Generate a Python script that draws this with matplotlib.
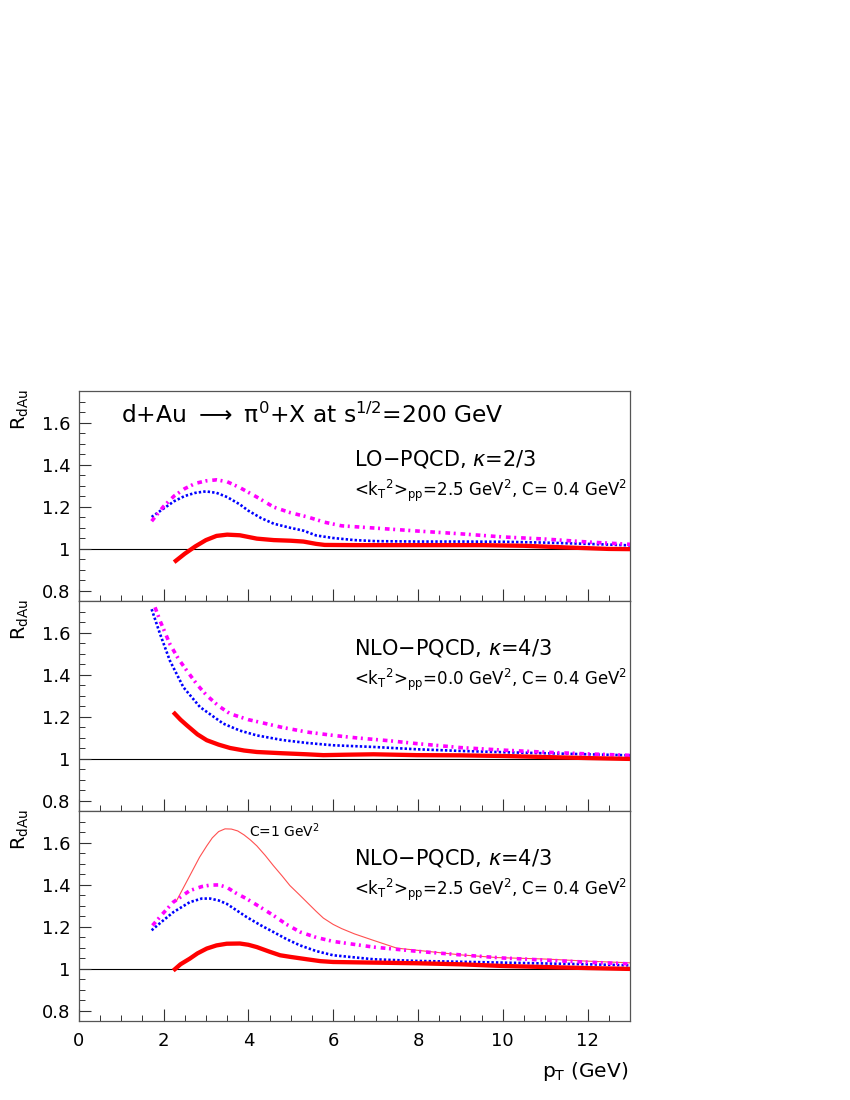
import numpy as np
import matplotlib
matplotlib.use("Agg")
import matplotlib.pyplot as plt
from matplotlib.ticker import MultipleLocator, FixedLocator

plt.rcParams['font.family'] = ['DejaVu Sans']
plt.rcParams['mathtext.fontset'] = 'dejavusans'

# ---- panel 1: LO-PQCD, kappa=2/3, <kT^2>pp = 2.5 ----
p1_mag_x = [1.72, 2.0, 2.25, 2.5, 2.75, 3.0, 3.25, 3.5, 3.8, 4.2, 4.6, 5.0, 5.4, 5.8, 6.2, 7.0, 8.0, 9.0, 10.0, 11.0, 12.0, 13.0]
p1_mag_y = [1.13, 1.20, 1.25, 1.285, 1.31, 1.322, 1.327, 1.318, 1.29, 1.245, 1.197, 1.17, 1.15, 1.125, 1.108, 1.097, 1.083, 1.07, 1.055, 1.045, 1.031, 1.02]
p1_blu_x = [1.72, 2.0, 2.25, 2.5, 2.75, 3.0, 3.25, 3.5, 3.8, 4.0, 4.3, 4.6, 5.0, 5.3, 5.6, 6.0, 6.5, 7.0, 8.0, 9.0, 10.0, 11.0, 12.0, 13.0]
p1_blu_y = [1.15, 1.19, 1.225, 1.25, 1.265, 1.272, 1.265, 1.245, 1.21, 1.18, 1.145, 1.118, 1.098, 1.085, 1.062, 1.05, 1.04, 1.035, 1.033, 1.033, 1.032, 1.028, 1.022, 1.015]
p1_red_x = [2.25, 2.5, 2.75, 3.0, 3.25, 3.5, 3.8, 4.2, 4.6, 5.0, 5.3, 5.6, 5.8, 6.5, 7.5, 8.5, 9.5, 10.5, 11.5, 12.5, 13.0]
p1_red_y = [0.935, 0.975, 1.01, 1.04, 1.06, 1.066, 1.063, 1.047, 1.04, 1.037, 1.033, 1.022, 1.017, 1.016, 1.016, 1.016, 1.016, 1.013, 1.005, 0.998, 0.997]

# ---- panel 2: NLO-PQCD, kappa=4/3, <kT^2>pp = 0.0 ----
p2_mag_x = [1.8, 1.92, 2.15, 2.35, 2.55, 2.8, 3.02, 3.3, 3.57, 4.0, 4.35, 4.8, 5.38, 6.0, 6.56, 7.3, 7.97, 9.0, 10.0, 11.0, 12.0, 13.0]
p2_mag_y = [1.72, 1.655, 1.545, 1.475, 1.418, 1.35, 1.30, 1.25, 1.213, 1.185, 1.169, 1.148, 1.126, 1.11, 1.098, 1.085, 1.071, 1.052, 1.04, 1.03, 1.022, 1.015]
p2_blu_x = [1.72, 1.92, 2.15, 2.47, 2.86, 3.41, 3.8, 4.2, 4.8, 5.38, 6.0, 6.95, 7.97, 9.0, 10.0, 11.0, 12.0, 13.0]
p2_blu_y = [1.711, 1.592, 1.466, 1.339, 1.245, 1.166, 1.133, 1.11, 1.088, 1.074, 1.063, 1.055, 1.044, 1.036, 1.03, 1.025, 1.02, 1.015]
p2_red_x = [2.23, 2.4, 2.55, 2.8, 3.02, 3.3, 3.57, 3.9, 4.2, 4.8, 5.38, 5.77, 6.3, 6.95, 7.97, 9.0, 10.0, 11.0, 12.0, 13.0]
p2_red_y = [1.221, 1.185, 1.158, 1.115, 1.087, 1.066, 1.05, 1.038, 1.031, 1.025, 1.02, 1.016, 1.018, 1.02, 1.016, 1.015, 1.012, 1.007, 1.002, 0.998]

# ---- panel 3: NLO-PQCD, kappa=4/3, <kT^2>pp = 2.5 ----
p3_c1_x = [2.3, 2.62, 2.85, 3.02, 3.15, 3.3, 3.45, 3.6, 3.75, 3.9, 4.05, 4.2, 4.4, 4.59, 4.8, 4.98, 5.2, 5.38, 5.6, 5.77, 6.0, 6.2, 6.5, 6.95, 7.5, 7.97, 9.0, 9.87, 11.0, 12.0, 13.0]
p3_c1_y = [1.32, 1.442, 1.53, 1.584, 1.622, 1.652, 1.665, 1.664, 1.655, 1.636, 1.612, 1.584, 1.538, 1.49, 1.44, 1.395, 1.352, 1.316, 1.272, 1.24, 1.21, 1.19, 1.165, 1.134, 1.097, 1.087, 1.065, 1.052, 1.045, 1.035, 1.027]
p3_mag_x = [1.74, 2.0, 2.23, 2.62, 2.9, 3.1, 3.3, 3.49, 3.7, 3.96, 4.3, 4.59, 4.9, 5.22, 5.6, 6.0, 6.95, 7.97, 9.0, 10.0, 11.0, 12.0, 13.0]
p3_mag_y = [1.205, 1.265, 1.316, 1.371, 1.39, 1.397, 1.398, 1.387, 1.36, 1.332, 1.29, 1.253, 1.21, 1.174, 1.148, 1.129, 1.102, 1.082, 1.065, 1.05, 1.04, 1.03, 1.022]
p3_blu_x = [1.72, 2.0, 2.23, 2.62, 2.9, 3.1, 3.3, 3.49, 3.7, 3.96, 4.3, 4.59, 4.9, 5.22, 5.6, 6.0, 6.95, 7.97, 9.0, 10.0, 11.0, 12.0, 13.0]
p3_blu_y = [1.182, 1.23, 1.268, 1.316, 1.333, 1.333, 1.324, 1.308, 1.28, 1.245, 1.205, 1.174, 1.14, 1.11, 1.083, 1.063, 1.044, 1.036, 1.032, 1.028, 1.024, 1.02, 1.015]
p3_red_x = [2.23, 2.4, 2.62, 2.8, 3.02, 3.25, 3.49, 3.8, 4.0, 4.2, 4.5, 4.75, 5.0, 5.38, 5.7, 6.0, 6.95, 7.97, 9.0, 10.0, 11.0, 12.0, 13.0]
p3_red_y = [0.99, 1.02, 1.047, 1.072, 1.095, 1.11, 1.118, 1.119, 1.113, 1.102, 1.08, 1.063, 1.055, 1.044, 1.035, 1.031, 1.028, 1.025, 1.02, 1.012, 1.007, 1.002, 0.998]

y_tick_vals = [0.8, 1.0, 1.2, 1.4, 1.6]
y_tick_labels = ['0.8', '1', '1.2', '1.4', '1.6']
x_tick_vals = [0, 2, 4, 6, 8, 10, 12]

panel_heads = [r'LO$-$PQCD, $\kappa$=2/3', r'NLO$-$PQCD, $\kappa$=4/3', r'NLO$-$PQCD, $\kappa$=4/3']
panel_kt = ['2.5', '0.0', '2.5']

fig = plt.figure(figsize=(8.5, 11), dpi=100)
left, width, height = 78.7 / 850, (630 - 78.7) / 850, 210 / 1100
bottoms = [1 - 601 / 1100, 1 - 811 / 1100, 1 - 1021 / 1100]
axes = [fig.add_axes([left, b, width, height]) for b in bottoms]

curves = [
    (p1_mag_x, p1_mag_y, p1_blu_x, p1_blu_y, p1_red_x, p1_red_y),
    (p2_mag_x, p2_mag_y, p2_blu_x, p2_blu_y, p2_red_x, p2_red_y),
    (p3_mag_x, p3_mag_y, p3_blu_x, p3_blu_y, p3_red_x, p3_red_y),
]

for i, ax in enumerate(axes):
    mx, my, bx, by, rx, ry = curves[i]
    ax.axhline(1.0, color='black', lw=0.8, zorder=1)
    if i == 2:
        ax.plot(p3_c1_x, p3_c1_y, color='#ff5050', lw=0.8, zorder=2)
    ax.plot(bx, by, color='#0000ff', lw=1.9, linestyle=(0, (0.9, 0.8)), zorder=3)
    ax.plot(mx, my, color='#ff00ff', lw=2.6, linestyle=(0, (1.3, 1.0, 0.55, 1.35)), zorder=4)
    ax.plot(rx, ry, color='#ff0000', lw=3.1, solid_capstyle='butt', zorder=5)

    ax.set_xlim(0, 13)
    ax.set_ylim(0.75, 1.75)
    ax.xaxis.set_major_locator(FixedLocator(x_tick_vals))
    ax.xaxis.set_minor_locator(MultipleLocator(0.5))
    ax.yaxis.set_major_locator(FixedLocator(y_tick_vals))
    ax.yaxis.set_minor_locator(MultipleLocator(0.05))
    ax.set_yticklabels(y_tick_labels)
    ax.tick_params(which='both', direction='in', top=False, right=False, colors='#333333',
                   labelcolor='black', labelsize=13)
    ax.tick_params(which='major', length=8.5, width=0.8, pad=6)
    ax.tick_params(which='minor', length=4.3, width=0.7)
    if i < 2:
        ax.tick_params(axis='x', labelbottom=False)
    else:
        ax.tick_params(axis='x', pad=8)
    for sp in ax.spines.values():
        sp.set_color('#555555')
        sp.set_linewidth(0.9)

    ax.text(-0.105, 1.012, r'R$_{\mathregular{dAu}}$', transform=ax.transAxes,
            rotation=90, ha='center', va='top', fontsize=14)

    ax.text(6.5, 1.493 if i else 1.393, panel_heads[i], fontsize=15, va='baseline')
    kt = (r'<k$_{\mathregular{T}}{}^{\mathregular{2}}$>$_{\mathregular{pp}}$=' + panel_kt[i]
          + r' GeV$^{\mathregular{2}}$, C= 0.4 GeV$^{\mathregular{2}}$')
    ax.text(6.5, 1.352 if i else 1.248, kt, fontsize=12, va='baseline')

axes[0].text(1.0, 1.6, r'd+Au $\longrightarrow$ $\mathregular{π}^{\mathregular{0}}$+X at s$^{\mathregular{1/2}}$=200 GeV',
             fontsize=16.8, va='baseline')
axes[2].text(4.02, 1.624, r'C=1 GeV$^{\mathregular{2}}$', fontsize=10, va='baseline')

fig.text(628 / 850, 1 - 1077 / 1100, r'p$_{\mathregular{T}}$ (GeV)', ha='right', va='baseline', fontsize=14.5)

fig.savefig('out.png', dpi=100)
